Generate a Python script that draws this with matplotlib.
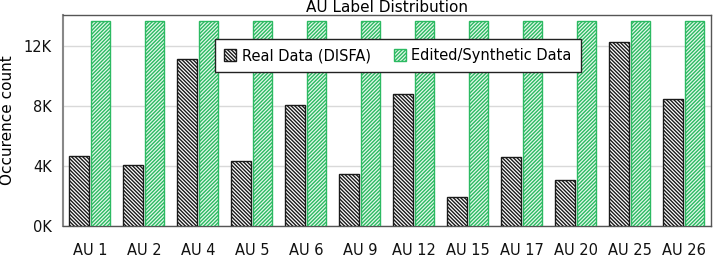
import matplotlib
matplotlib.use("Agg")
import matplotlib.pyplot as plt
import numpy as np

plt.rcParams['font.family'] = ['DejaVu Sans']
plt.rcParams['hatch.linewidth'] = 1.0

categories = ["AU 1", "AU 2", "AU 4", "AU 5", "AU 6", "AU 9", "AU 12", "AU 15", "AU 17", "AU 20", "AU 25", "AU 26"]
real_data = [4650, 4050, 11150, 4330, 8100, 3480, 8820, 1940, 4620, 3080, 12250, 8470]
synthetic_data = [13700] * 12
yticks = [0, 4000, 8000, 12000]
ytick_labels = ["0K", "4K", "8K", "12K"]

fig = plt.figure(figsize=(7.18, 2.57), dpi=100)
ax = fig.add_axes([0.0877, 0.1206, 0.9023, 0.821])

x = np.arange(len(categories))
w = 0.36
gap = 0.02
b1 = ax.bar(x - w/2 - gap, real_data, w, facecolor='white', edgecolor='#1a1a1a',
            hatch='\\' * 9, linewidth=1.0, label='Real Data (DISFA)', zorder=3)
b2 = ax.bar(x + w/2 + gap, synthetic_data, w, facecolor='#e6f8ec', edgecolor='#2cba62',
            hatch='/' * 9, linewidth=1.0, label='Edited/Synthetic Data', zorder=3)

ax.set_xlim(-0.5, 11.5)
ax.set_ylim(0, 14070)
ax.set_yticks(yticks)
ax.set_yticklabels(ytick_labels)
ax.set_xticks(x)
ax.set_xticklabels(categories)
ax.tick_params(axis='both', length=0, labelsize=10.5, colors='#111111')
ax.tick_params(axis='x', pad=12)
ax.tick_params(axis='y', pad=8)
ax.grid(axis='y', color='#d9d9d9', linewidth=1.0, zorder=0)
ax.set_axisbelow(True)
for s in ax.spines.values():
    s.set_color('#555555')
    s.set_linewidth(1.0)
ax.spines['left'].set_color('#888888')
ax.spines['left'].set_linewidth(1.5)
ax.set_ylabel('Occurence count', fontsize=11, labelpad=6)
ax.set_title('AU Label Distribution', fontsize=11, pad=2)

leg = ax.legend(loc='upper center', bbox_to_anchor=(0.517, 0.885), ncol=2, fontsize=10.5,
                frameon=True, fancybox=False, edgecolor='#222222', framealpha=1,
                handlelength=0.8, handleheight=0.8, handletextpad=0.4, columnspacing=1.6,
                borderpad=0.6, borderaxespad=0)
leg.get_frame().set_linewidth(1.0)

fig.savefig('out.png', dpi=100)
